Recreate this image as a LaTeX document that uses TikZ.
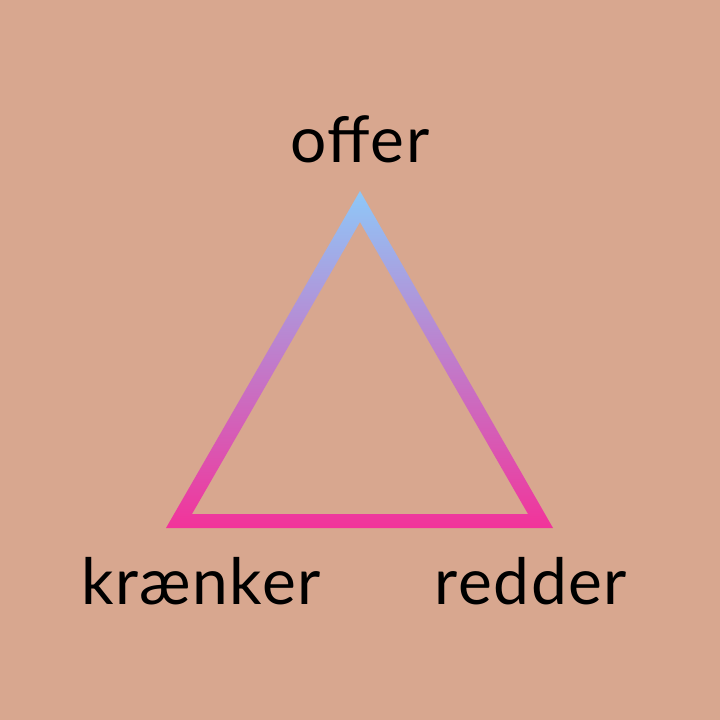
\documentclass[tikz,border=0pt]{standalone}
\usepackage{fontspec}
\setmainfont{Lato}[LetterSpace=2.5]
\definecolor{bg}{HTML}{D8A78F}
\definecolor{topblue}{HTML}{8EC8F8}
\definecolor{midviolet}{HTML}{C07CCB}
\definecolor{botpink}{HTML}{F2339A}
\tikzset{label text/.style={font=\fontsize{64}{64}\selectfont, text=black, inner sep=0pt, anchor=base}}
\begin{document}
\begin{tikzpicture}[x=1pt,y=-1pt]
\fill[bg] (0,0) rectangle (720,720);
\useasboundingbox (0,0) rectangle (720,720);
\coordinate (apex) at (360,191);
\coordinate (bl) at (166,528);
\coordinate (br) at (553,528);
\coordinate (iapex) at (360,222);
\coordinate (ibl) at (192,514);
\coordinate (ibr) at (528,514);
\shade[top color=topblue, bottom color=botpink, middle color=midviolet, even odd rule]
  (apex) -- (bl) -- (br) -- cycle (iapex) -- (ibl) -- (ibr) -- cycle;
\node[label text] (offer) at (360,162) {offer};
\node[label text] (kr) at (201,604) {krænker};
\node[label text] (red) at (531,604) {redder};
\end{tikzpicture}
\end{document}
